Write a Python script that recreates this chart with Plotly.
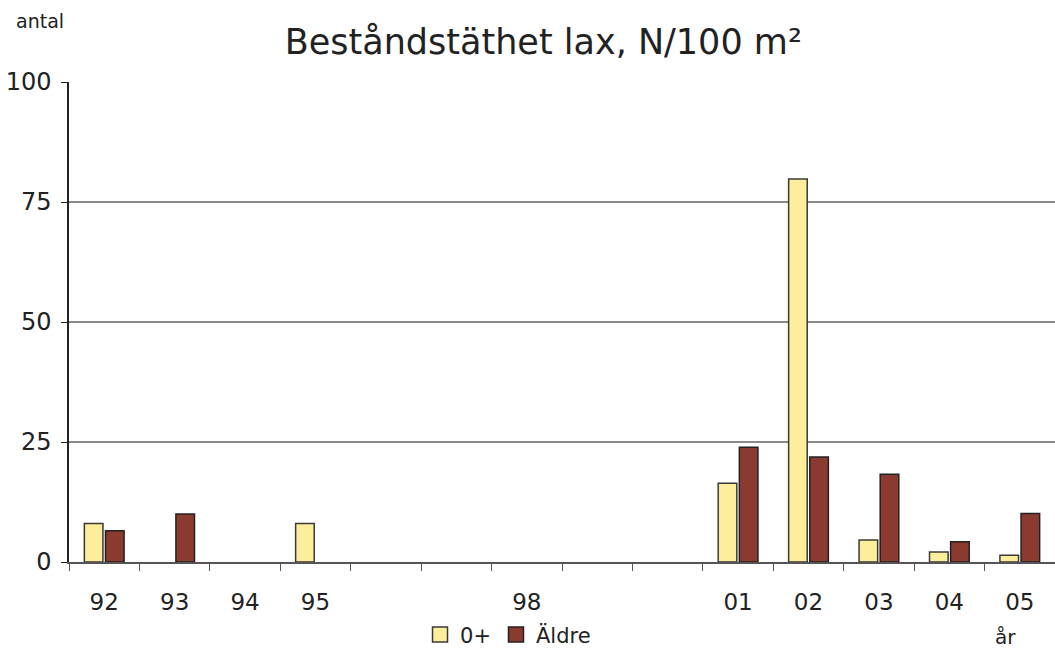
import plotly.graph_objects as go

years = ["92", "93", "94", "95", "96", "97", "98", "99", "00", "01", "02", "03", "04", "05"]
year_labels = ["92", "93", "94", "95", "", "", "98", "", "", "01", "02", "03", "04", "05"]
zero_plus = [8, None, None, 8, None, None, None, None, None, 16.4, 79.8, 4.6, 2.1, 1.4]
aldre = [6.5, 10, None, None, None, None, None, None, None, 23.9, 21.9, 18.3, 4.2, 10.1]
y_ticks = [0, 25, 50, 75, 100]
series_names = ["0+", "Äldre"]
series_colors = ["#FCEE9A", "#8A3A2F"]
series_edges = ["#3a3a3a", "#222222"]

FONT = "DejaVu Sans"

fig = go.Figure()
for vals, name, col, edge in zip([zero_plus, aldre], series_names, series_colors, series_edges):
    fig.add_trace(go.Bar(x=years, y=vals, name=name, showlegend=False,
                         marker=dict(color=col, line=dict(color=edge, width=1.5))))
# legend entries with larger square symbols
for name, col, edge in zip(series_names, series_colors, series_edges):
    fig.add_trace(go.Scatter(x=[None], y=[None], mode="markers", name=name,
                             marker=dict(symbol="square", size=15, color=col,
                                         line=dict(color=edge, width=1.5))))

fig.update_layout(
    width=1055, height=648,
    margin=dict(l=69, r=0, t=82, b=86, autoexpand=False),
    paper_bgcolor="white", plot_bgcolor="white",
    barmode="group", bargap=0.4, bargroupgap=0.12,
    font=dict(family=FONT, color="#222222"),
    title=dict(text="Beståndstäthet lax, N/100 m²", x=0.515, xanchor="center",
               y=0.936, yanchor="middle", font=dict(size=35, family=FONT, color="#222222")),
    showlegend=True,
    legend=dict(orientation="h", x=0.356, xanchor="left", y=-0.152, yanchor="middle",
                font=dict(size=21, family=FONT, color="#222222"),
                itemwidth=30, tracegroupgap=0, bgcolor="rgba(0,0,0,0)"),
    xaxis=dict(type="category", categoryorder="array", categoryarray=years,
               tickmode="array", tickvals=years, ticktext=year_labels,
               tickson="boundaries", ticks="outside", ticklen=7, tickcolor="#555555",
               tickfont=dict(size=23, family=FONT, color="#222222"),
               ticklabelstandoff=18,
               showline=True, linecolor="#555555", linewidth=2,
               showgrid=False, zeroline=False, range=[-0.5, 13.5], automargin=False),
    yaxis=dict(range=[0, 100], tickmode="array", tickvals=y_ticks,
               ticks="outside", ticklen=6, tickcolor="#222222",
               tickfont=dict(size=24, family=FONT, color="#222222"),
               ticklabelstandoff=5,
               showline=True, linecolor="#222222", linewidth=1.5,
               showgrid=True, gridcolor="#8a8a8a", gridwidth=1.5,
               zeroline=False, automargin=False),
    annotations=[
        dict(text="antal", xref="paper", yref="paper", x=-0.056, y=1.128,
             xanchor="left", yanchor="middle", showarrow=False,
             font=dict(size=19, family=FONT, color="#222222")),
        dict(text="år", xref="paper", yref="paper", x=0.950, y=-0.156,
             xanchor="center", yanchor="middle", showarrow=False,
             font=dict(size=20, family=FONT, color="#222222")),
    ],
)

fig.write_html("out.html", config={"displayModeBar": False},
               post_script="document.body.style.margin='0px';document.body.style.overflow='hidden';")
